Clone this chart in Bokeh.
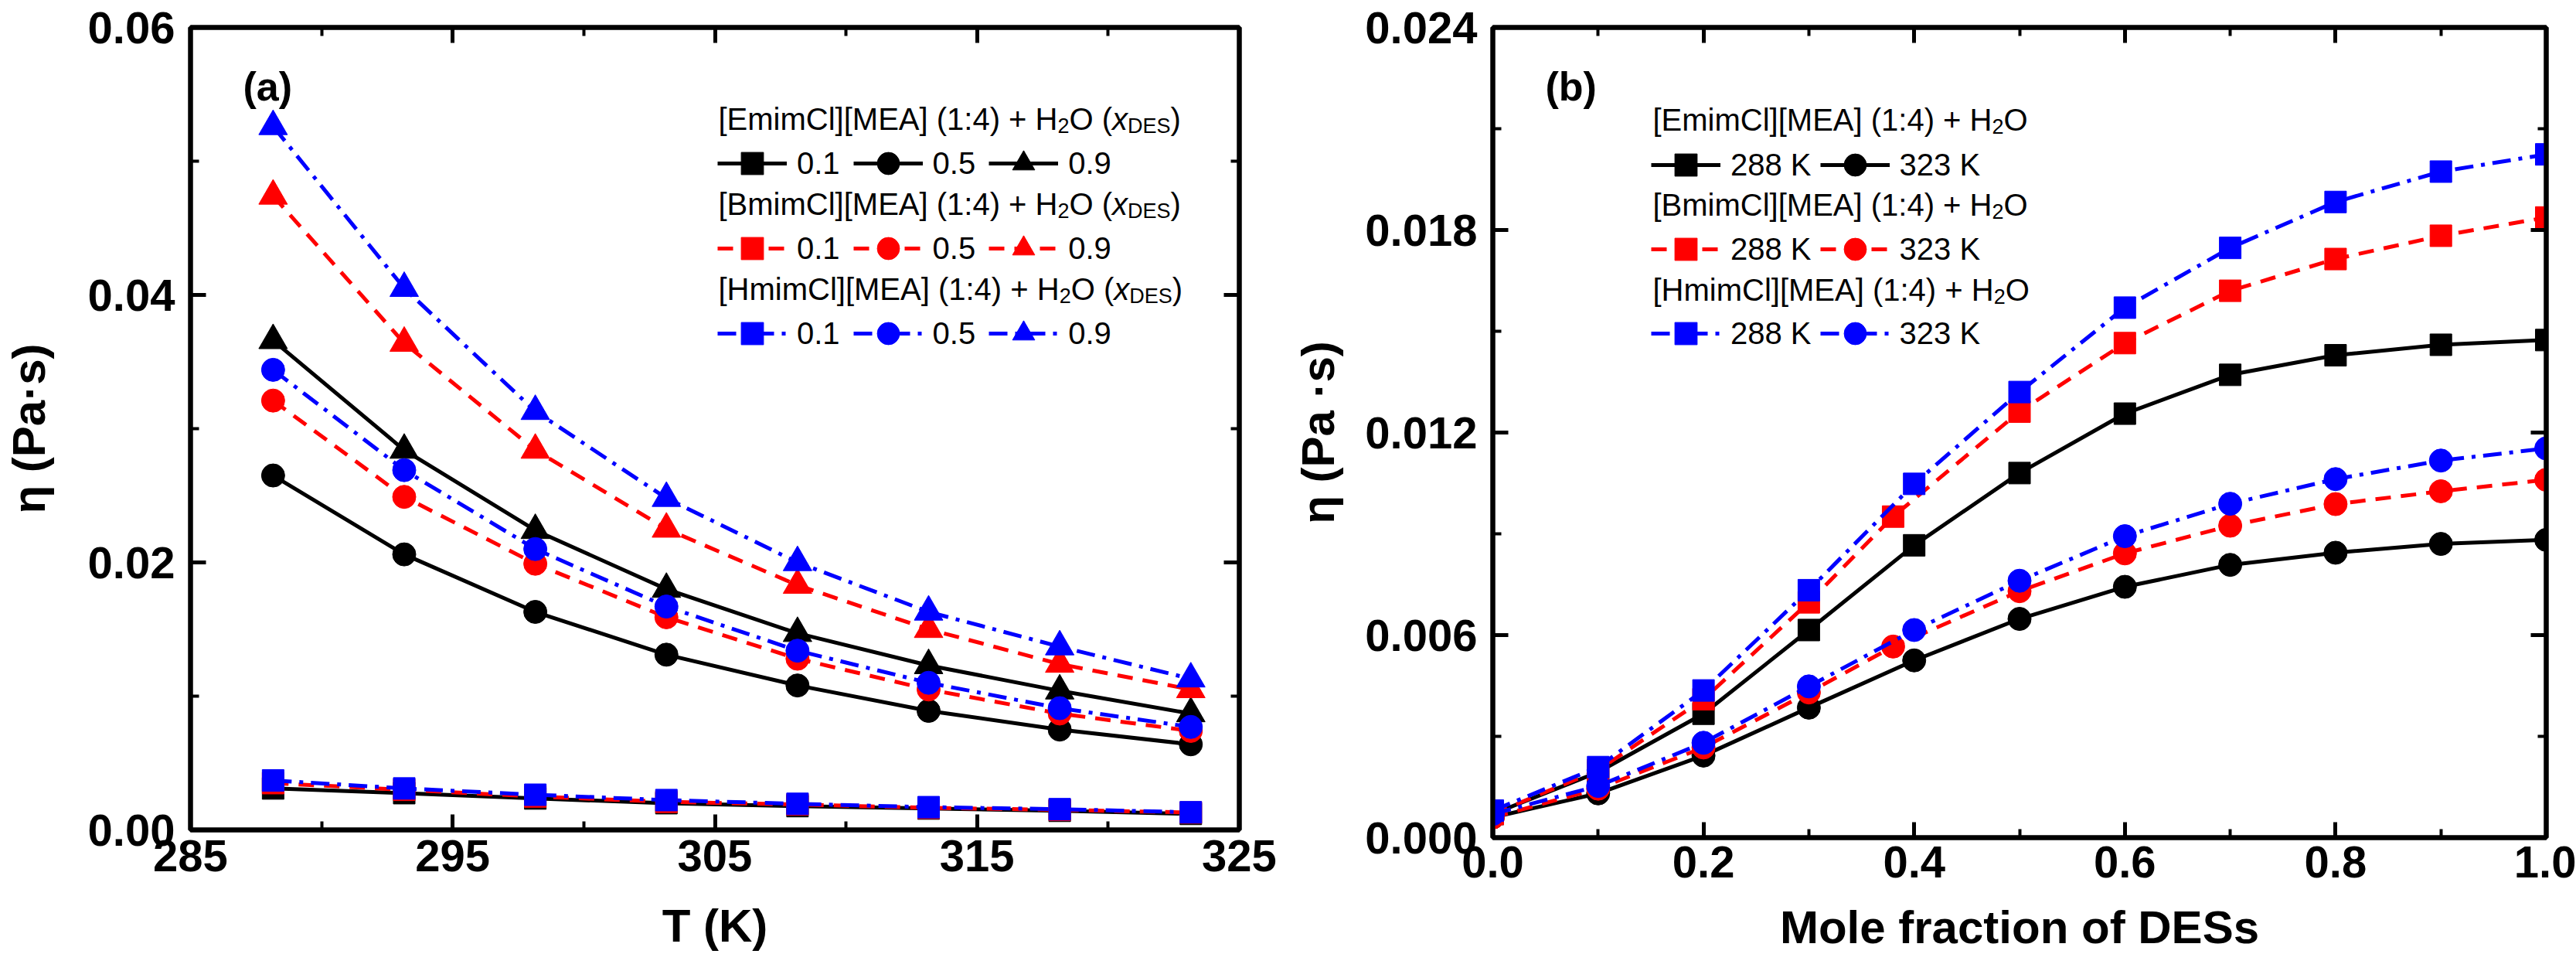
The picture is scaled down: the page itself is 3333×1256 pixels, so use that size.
from bokeh.plotting import figure
from bokeh.models import (Range1d, FixedTicker, LinearAxis, Legend, LegendItem, Label,
                          PrintfTickFormatter, CustomJSTickFormatter)
from bokeh.layouts import row, column
from bokeh.embed import file_html
from bokeh.resources import INLINE

# ---------------- data: panel (a) viscosity vs temperature ----------------
T_K = [288.15, 293.15, 298.15, 303.15, 308.15, 313.15, 318.15, 323.15]
emim_01 = [0.0031, 0.00275, 0.00235, 0.0020, 0.00178, 0.0016, 0.00143, 0.0012]
emim_05 = [0.0265, 0.0206, 0.0163, 0.0131, 0.0108, 0.0089, 0.0075, 0.0064]
emim_09 = [0.0366, 0.0284, 0.0224, 0.0180, 0.0147, 0.0123, 0.0104, 0.0087]
bmim_01 = [0.0035, 0.0030, 0.0025, 0.0021, 0.0019, 0.00165, 0.0015, 0.0013]
bmim_05 = [0.0321, 0.0249, 0.0199, 0.0159, 0.0128, 0.0105, 0.0087, 0.0074]
bmim_09 = [0.0474, 0.0364, 0.0284, 0.0225, 0.0183, 0.0150, 0.0124, 0.0105]
hmim_01 = [0.0037, 0.0031, 0.00263, 0.00223, 0.00195, 0.0017, 0.00155, 0.00132]
hmim_05 = [0.0344, 0.0269, 0.0210, 0.0167, 0.0134, 0.0110, 0.0091, 0.0077]
hmim_09 = [0.0526, 0.0405, 0.0313, 0.0248, 0.0200, 0.0163, 0.0137, 0.0113]
a_xticks = [285, 295, 305, 315, 325]
a_yticks = [0.0, 0.02, 0.04, 0.06]

# ---------------- data: panel (b) viscosity vs mole fraction ----------------
x_des = [0.0, 0.1, 0.2, 0.3, 0.4, 0.5, 0.6, 0.7, 0.8, 0.9, 1.0]
x_des_bmim = [0.0, 0.1, 0.2, 0.3, 0.38, 0.5, 0.6, 0.7, 0.8, 0.9, 1.0]
emim_288 = [0.0007, 0.00194, 0.00367, 0.00615, 0.00866, 0.0108, 0.01256, 0.01371, 0.01429, 0.0146, 0.01474]
emim_323 = [0.0006, 0.00131, 0.00243, 0.00385, 0.00525, 0.00648, 0.00743, 0.00808, 0.00844, 0.0087, 0.00882]
bmim_288 = [0.0007, 0.0020, 0.0041, 0.00697, 0.00951, 0.01262, 0.01465, 0.0162, 0.01714, 0.01783, 0.01837]
bmim_323 = [0.0006, 0.00145, 0.00267, 0.0043, 0.00566, 0.0073, 0.00842, 0.00924, 0.00988, 0.01026, 0.0106]
hmim_288 = [0.0008, 0.00209, 0.00436, 0.00733, 0.01048, 0.0132, 0.0157, 0.01747, 0.01883, 0.01973, 0.02024]
hmim_323 = [0.0007, 0.00153, 0.00281, 0.00448, 0.00615, 0.00761, 0.00893, 0.00989, 0.01062, 0.01117, 0.01153]
b_xticks = [0.0, 0.2, 0.4, 0.6, 0.8, 1.0]
b_yticks = [0.0, 0.006, 0.012, 0.018, 0.024]

systems = ["[EmimCl][MEA] (1:4)", "[BmimCl][MEA] (1:4)", "[HmimCl][MEA] (1:4)"]

# ---------------- styles ----------------
FONT = "Liberation Sans"
BLACK, RED, BLUE = "#000000", "#FF0000", "#0000FF"
STY = [(BLACK, "solid"), (RED, "20 13"), (BLUE, "24 10 5 10")]
LW = 5
MSIZE = {"square": 28, "circle": 30, "triangle": 37}

# Arial / Liberation Sans advance widths (per 1000 em) for header layout
ADV = {'[': 278, ']': 278, 'E': 667, 'm': 833, 'i': 222, 'C': 722, 'l': 222, 'M': 833,
       'A': 667, 'B': 667, 'H': 722, ' ': 278, '(': 333, ')': 333, '1': 556, ':': 278,
       '4': 556, '+': 584, 'O': 778, '2': 556, 'x': 500, 'D': 722, 'S': 667}


def tw(s, size):
    return sum(ADV.get(c, 556) for c in s) / 1000.0 * size


def style_axes(p, xt, xminor, yt, yminor, xfmt, yfmt, xlabel, ylabel, ylab_standoff,
               xlab_standoff, xtick_standoff):
    p.xaxis.ticker = FixedTicker(ticks=xt, minor_ticks=xminor)
    p.yaxis.ticker = FixedTicker(ticks=yt, minor_ticks=yminor)
    p.xaxis.formatter = PrintfTickFormatter(format=xfmt)
    p.yaxis.formatter = PrintfTickFormatter(format=yfmt)
    p.xaxis.axis_label = xlabel
    p.yaxis.axis_label = ylabel
    p.yaxis.axis_label_standoff = ylab_standoff
    p.xaxis.axis_label_standoff = xlab_standoff
    for ax in [p.xaxis[0], p.yaxis[0]]:
        ax.major_label_text_font = FONT
        ax.major_label_text_font_style = "bold"
        ax.major_label_text_font_size = "58px"
        ax.major_label_text_color = "black"
        ax.axis_label_text_font = FONT
        ax.axis_label_text_font_style = "bold"
        ax.axis_label_text_font_size = "60px"
        ax.axis_label_text_color = "black"
    p.xaxis.major_label_standoff = xtick_standoff
    p.yaxis.major_label_standoff = 20
    # mirrored axes
    p.add_layout(LinearAxis(ticker=FixedTicker(ticks=xt, minor_ticks=xminor)), "above")
    p.add_layout(LinearAxis(ticker=FixedTicker(ticks=yt, minor_ticks=yminor)), "right")
    blank = CustomJSTickFormatter(code="return ''")
    for ax in p.above + p.right:
        ax.formatter = blank
        ax.major_label_text_font_size = "1px"
        ax.major_label_standoff = 0
    for ax in p.axis:
        ax.axis_line_width = 6
        ax.axis_line_color = "black"
        ax.major_tick_in = 20
        ax.major_tick_out = 0
        ax.minor_tick_in = 11
        ax.minor_tick_out = 0
        ax.major_tick_line_width = 5
        ax.minor_tick_line_width = 4
        ax.major_tick_line_color = "black"
        ax.minor_tick_line_color = "black"
    p.grid.visible = False
    p.outline_line_color = "black"
    p.outline_line_width = 6
    p.background_fill_color = "white"
    p.border_fill_color = "white"


def series(p, x, y, color, dash, marker):
    lr = p.line(x, y, line_color=color, line_width=LW, line_dash=dash)
    sr = p.scatter(x, y, marker=marker, size=MSIZE[marker], fill_color=color, line_color=color)
    return lr, sr


def legend_row(p, items, x, y, spacing):
    lg = Legend(items=items, orientation="horizontal", location=(x, y),
                glyph_width=90, glyph_height=72, label_standoff=13, spacing=spacing,
                padding=0, margin=0, label_text_font=FONT, label_text_font_size="40px",
                label_text_color="black", background_fill_alpha=0, border_line_alpha=0)
    p.add_layout(lg, "center")


def header(p, x0, y0, name, with_xdes):
    parts = [(name + " + H", 40, "normal", 0), ("2", 27, "normal", -9)]
    if with_xdes:
        parts += [("O (", 40, "normal", 0), ("x", 40, "italic", 0), ("DES", 27, "normal", -9),
                  (")", 40, "normal", 0)]
    else:
        parts += [("O", 40, "normal", 0)]
    x = x0
    for txt, size, style, dy in parts:
        p.add_layout(Label(x=x, y=y0 + dy, x_units="screen", y_units="screen", text=txt,
                           text_font=FONT, text_font_size=f"{size}px", text_font_style=style,
                           text_baseline="alphabetic", text_align="left", text_color="black"))
        x += tw(txt, size)


# ====================== panel (a) ======================
pa = figure(width=1660, height=1256, x_range=Range1d(285, 325), y_range=Range1d(0, 0.06),
            output_backend="svg", toolbar_location=None,
            min_border_left=241, min_border_right=57, min_border_top=35, min_border_bottom=183)
style_axes(pa, a_xticks, [290, 300, 310, 320], a_yticks, [0.01, 0.03, 0.05],
           "%d", "%.2f", "T (K)", "η (Pa·s)", 40, 34, 13)

a_data = [[emim_01, emim_05, emim_09], [bmim_01, bmim_05, bmim_09], [hmim_01, hmim_05, hmim_09]]
a_labels = ["0.1", "0.5", "0.9"]
markers = ["square", "circle", "triangle"]
a_rows = []
for (color, dash), group in zip(STY, a_data):
    items = []
    for ys, mk, lab in zip(group, markers, a_labels):
        lr, sr = series(pa, T_K, ys, color, dash, mk)
        items.append(LegendItem(label=lab, renderers=[lr, sr]))
    a_rows.append(items)

for i, (name, items) in enumerate(zip(systems, a_rows)):
    header(pa, 683, 920 - 110 * i, name, True)
    legend_row(pa, items, 682, 826 - 110 * i, 17)

pa.add_layout(Label(x=68, y=962, x_units="screen", y_units="screen", text="(a)",
                    text_font=FONT, text_font_size="52px", text_font_style="bold",
                    text_baseline="alphabetic", text_color="black"))

# ====================== panel (b) ======================
pb = figure(width=1673, height=1256, x_range=Range1d(0, 1.0), y_range=Range1d(0, 0.024),
            output_backend="svg", toolbar_location=None,
            min_border_left=271, min_border_right=39, min_border_top=35, min_border_bottom=173)
style_axes(pb, b_xticks, [0.1, 0.3, 0.5, 0.7, 0.9], b_yticks, [0.003, 0.009, 0.015, 0.021],
           "%.1f", "%.3f", "Mole fraction of DESs", "η (Pa ·s)", 24, 28, 11)

b_data = [(x_des, emim_288, emim_323), (x_des_bmim, bmim_288, bmim_323), (x_des, hmim_288, hmim_323)]
b_labels = ["288 K", "323 K"]
b_rows = []
for (color, dash), (xs, y288, y323) in zip(STY, b_data):
    l1, s1 = series(pb, xs, y288, color, dash, "square")
    l2, s2 = series(pb, xs, y323, color, dash, "circle")
    b_rows.append([LegendItem(label=b_labels[0], renderers=[l1, s1]),
                   LegendItem(label=b_labels[1], renderers=[l2, s2])])

for i, (name, items) in enumerate(zip(systems, b_rows)):
    header(pb, 207, 929 - 110 * i, name, False)
    legend_row(pb, items, 205, 834 - 109 * i, 11)

pb.add_layout(Label(x=68, y=972, x_units="screen", y_units="screen", text="(b)",
                    text_font=FONT, text_font_size="52px", text_font_style="bold",
                    text_baseline="alphabetic", text_color="black"))

layout = row(column(pa), column(pb))
open("out.html", "w").write(file_html(layout, INLINE))
